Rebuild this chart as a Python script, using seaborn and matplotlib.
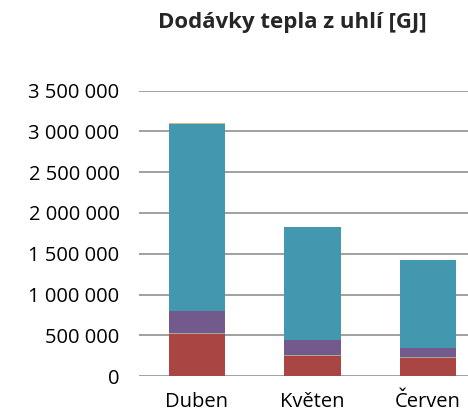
import pandas as pd
import matplotlib.pyplot as plt
import seaborn as sns

# Data
months = ['Duben', 'Květen', 'Červen']
red_vals = [520000, 248000, 230000]
green_vals = [10000, 8000, 8000]
purple_vals = [270000, 188000, 105000]
teal_vals = [2290000, 1380000, 1077000]
orange_vals = [8000, 8000, 8000]
colors = ['#A94643', '#A8A690', '#735A8C', '#4398B0', '#D9B48E']

df = pd.DataFrame({'month': months, 'red': red_vals, 'green': green_vals,
                   'purple': purple_vals, 'teal': teal_vals, 'orange': orange_vals})
layers = ['red', 'green', 'purple', 'teal', 'orange']
cum = df[layers].cumsum(axis=1)

sns.set_style('white')
plt.rcParams['font.family'] = ['Open Sans', 'DejaVu Sans']

fig = plt.figure(figsize=(4.68, 4.2), dpi=100)
ax = fig.add_axes([0.297, 0.104, 0.703, 0.6805])

# Stacked bars: draw cumulative totals from the top layer down
for layer, color in reversed(list(zip(layers, colors))):
    sns.barplot(x=df['month'], y=cum[layer], color=color, width=0.485,
                saturation=1, linewidth=0, ax=ax, zorder=3)

ax.set_ylim(0, 3500000)
ax.set_xlim(-0.5, 2.345)
ticks = list(range(0, 3500001, 500000))
ax.set_yticks(ticks)
ax.set_yticklabels([f'{t:,}'.replace(',', ' ') for t in ticks])
ax.yaxis.grid(True, color='#868686', linewidth=1.1, zorder=0)
ax.set_axisbelow(True)
for s in ax.spines.values():
    s.set_visible(False)
ax.tick_params(axis='y', length=0, pad=14, labelsize=14.5, colors='black')
ax.tick_params(axis='x', length=0, pad=11, labelsize=14.5, colors='black')
ax.set_xlabel('')
ax.set_ylabel('')

fig.text(0.624, 0.946, 'Dodávky tepla z uhlí [GJ]', ha='center', va='center',
         fontsize=16, fontweight='bold')

fig.savefig('out.png', dpi=100)
